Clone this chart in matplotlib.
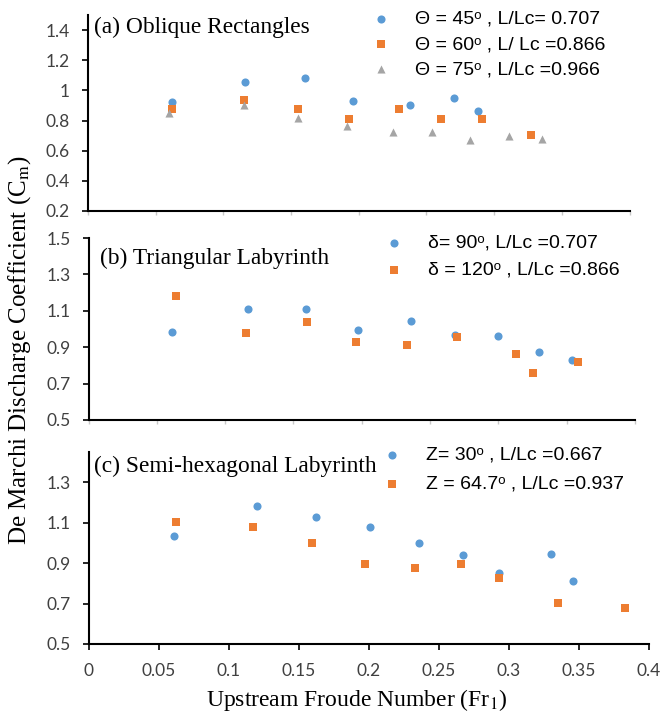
#! /usr/bin/env python3

import numpy as np
import matplotlib
matplotlib.use('Agg')
import matplotlib.pyplot as plt

# (a) oblique rectangles
a_fr_45 = [0.062, 0.116, 0.160, 0.196, 0.238, 0.270, 0.288]
a_cm_45 = [0.923, 1.057, 1.084, 0.931, 0.903, 0.949, 0.861]
a_fr_60 = [0.062, 0.115, 0.155, 0.193, 0.230, 0.261, 0.291, 0.327]
a_cm_60 = [0.874, 0.936, 0.874, 0.810, 0.874, 0.810, 0.810, 0.702]
a_fr_75 = [0.060, 0.115, 0.155, 0.191, 0.225, 0.254, 0.282, 0.311, 0.335]
a_cm_75 = [0.848, 0.905, 0.814, 0.764, 0.724, 0.724, 0.669, 0.697, 0.677]

# (b) triangular labyrinth
b_fr_90 = [0.061, 0.117, 0.159, 0.197, 0.236, 0.268, 0.300, 0.330, 0.354]
b_cm_90 = [0.983, 1.111, 1.111, 0.992, 1.045, 0.968, 0.962, 0.872, 0.827]
b_fr_120 = [0.064, 0.115, 0.160, 0.196, 0.233, 0.270, 0.313, 0.325, 0.358]
b_cm_120 = [1.183, 0.979, 1.039, 0.928, 0.913, 0.957, 0.861, 0.757, 0.821]

# (c) semi-hexagonal labyrinth
c_fr_30 = [0.061, 0.120, 0.162, 0.201, 0.236, 0.267, 0.293, 0.330, 0.346]
c_cm_30 = [1.034, 1.182, 1.129, 1.081, 1.000, 0.940, 0.850, 0.947, 0.813]
c_fr_647 = [0.062, 0.117, 0.159, 0.197, 0.233, 0.266, 0.293, 0.335, 0.383]
c_cm_647 = [1.106, 1.078, 0.998, 0.897, 0.878, 0.897, 0.828, 0.703, 0.677]

blue = '#5B9BD5'
orange = '#ED7D31'
gray = '#A5A5A5'

W, H = 663, 716
serif = ['Liberation Serif', 'DejaVu Serif']
sans = ['Liberation Sans', 'DejaVu Sans']
plt.rcParams['mathtext.fontset'] = 'stix'

def px_axes(fig, left, right, top, bottom):
	return fig.add_axes([left/W, 1-bottom/H, (right-left)/W, (bottom-top)/H])

def style(ax, ylim, yticks, labels):
	ax.set_xlim(0, 0.4)
	ax.set_ylim(*ylim)
	ax.set_yticks(yticks)
	ax.set_yticklabels(['{:g}'.format(v) for v in yticks])
	ax.set_xticks(np.arange(0, 0.401, 0.05))
	for s in ['top', 'right']:
		ax.spines[s].set_visible(False)
	for s in ['left', 'bottom']:
		ax.spines[s].set_linewidth(1.5)
	ax.tick_params(axis='y', length=4.5, width=1.2, pad=8.5, labelsize=12.5)
	if labels:
		ax.tick_params(axis='x', length=4.5, width=1.2, pad=9.5, labelsize=12.5)
		ax.set_xticklabels(['{:g}'.format(v) for v in np.arange(0, 0.401, 0.05).round(2)])
	else:
		ax.tick_params(axis='x', length=3, width=1, color='#C8C8C8', labelbottom=False)
	for t in ax.get_xticklabels() + ax.get_yticklabels():
		t.set_family(['Lato', 'DejaVu Sans'])
		t.set_color('#404040')

def legend(ax, x, y, spacing):
	leg = ax.legend(loc='upper left', bbox_to_anchor=(x, y), frameon=False,
		prop={'family': sans, 'size': 14}, handlelength=1.0,
		handletextpad=1.25, labelspacing=spacing, borderpad=0,
		borderaxespad=0, scatterpoints=1)
	return leg

fig = plt.figure(figsize=(W/100, H/100), dpi=100)

# (a)
ax = px_axes(fig, 88, 629.5, 15, 211)
ax.scatter(a_fr_45, a_cm_45, s=34, marker='o', color=blue, linewidths=0, label='Θ = 45ᵒ , L/Lc= 0.707')
ax.scatter(a_fr_60, a_cm_60, s=26, marker='s', color=orange, linewidths=0, label='Θ = 60ᵒ , L/ Lc =0.866')
ax.scatter(a_fr_75, a_cm_75, s=34, marker='^', color=gray, linewidths=0, label='Θ = 75ᵒ , L/Lc =0.966')
style(ax, (0.2, 1.5), [0.2, 0.4, 0.6, 0.8, 1.0, 1.2, 1.4], False)
ax.text(6/541.5, 1-12/196, '(a) Oblique Rectangles', transform=ax.transAxes,
	family=serif, fontsize=16.8, va='center', ha='left')
legend(ax, (371-88)/541.5, 1+5/196, 0.4)

# (b)
ax = px_axes(fig, 88.5, 635, 238, 420)
ax.scatter(b_fr_90, b_cm_90, s=34, marker='o', color=blue, linewidths=0, label='δ= 90ᵒ, L/Lc =0.707')
ax.scatter(b_fr_120, b_cm_120, s=26, marker='s', color=orange, linewidths=0, label='δ = 120ᵒ , L/Lc =0.866')
style(ax, (0.5, 1.5), [0.5, 0.7, 0.9, 1.1, 1.3, 1.5], False)
ax.text(12/546.5, 1-20/182, '(b) Triangular Labyrinth', transform=ax.transAxes,
	family=serif, fontsize=16.8, va='center', ha='left')
legend(ax, (384-88.5)/546.5, 1+4/182, 0.5)

# (c)
ax = px_axes(fig, 89, 649, 452, 644)
ax.scatter(c_fr_30, c_cm_30, s=34, marker='o', color=blue, linewidths=0, label='Z= 30ᵒ , L/Lc =0.667')
ax.scatter(c_fr_647, c_cm_647, s=26, marker='s', color=orange, linewidths=0, label='Z = 64.7ᵒ , L/Lc =0.937')
style(ax, (0.5, 1.45), [0.5, 0.7, 0.9, 1.1, 1.3], True)
ax.text(5/560, 1-14/192, '(c) Semi-hexagonal Labyrinth', transform=ax.transAxes,
	family=serif, fontsize=16.8, va='center', ha='left')
legend(ax, (382-89)/560, 1+6/192, 0.6)

fig.text(357/W, 1-700/H, 'Upstream Froude Number (Fr$_1$)', family=serif, fontsize=17,
	ha='center', va='center')
fig.text(20/W, 1-350/H, 'De Marchi Discharge Coefficient (C$_\\mathrm{m}$)', family=serif,
	fontsize=18, ha='center', va='center', rotation=90)

fig.savefig('out.png', dpi=100)
